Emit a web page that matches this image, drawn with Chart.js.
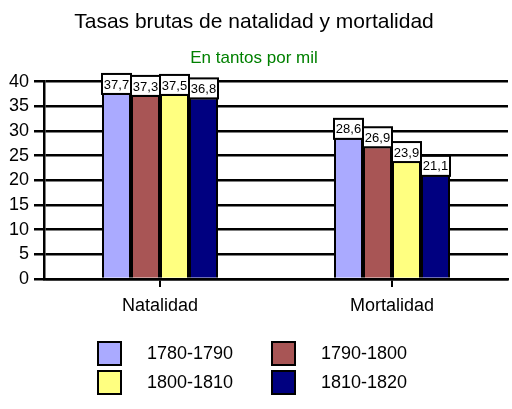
<!DOCTYPE html>
<html>
<head>
<meta charset="utf-8">
<script src="https://cdn.jsdelivr.net/npm/chart.js@4"></script>
<style>
  body { margin: 0; background: #fff; font-family: Arial, "Liberation Sans", sans-serif; }
  #wrap { position: relative; width: 512px; height: 409px; }
  #legend { position: absolute; left: 97px; top: 341px; display: grid;
            grid-template-columns: 174px 174px; row-gap: 4px; }
  .item { display: flex; align-items: center; height: 25px; font-size: 18px; color: #000; }
  .box { width: 21px; height: 21px; border: 2px solid #000; margin-right: 25px; }
</style>
</head>
<body>
<div id="wrap">
  <canvas id="chart" width="512" height="409"></canvas>
  <div id="legend"></div>
</div>
<script>
// categories and series
const categories = ["Natalidad", "Mortalidad"];
const periods = ["1780-1790", "1790-1800", "1800-1810", "1810-1820"];
const colors = ["#AAAAFF", "#A85555", "#FFFF80", "#000080"];
const v1780 = [37.7, 28.6];
const v1790 = [37.3, 26.9];
const v1800 = [37.5, 23.9];
const v1810 = [36.8, 21.1];
const yTicks = [0, 5, 10, 15, 20, 25, 30, 35, 40];

const seriesValues = [v1780, v1790, v1800, v1810];

// white boxed value labels above each bar
const valueBoxes = {
    id: 'valueBoxes',
    afterDatasetsDraw(chart) {
        const ctx = chart.ctx;
        ctx.save();
        ctx.font = '13px Arial, "Liberation Sans", sans-serif';
        ctx.textAlign = 'center';
        ctx.textBaseline = 'middle';
        chart.data.datasets.forEach((ds, i) => {
            chart.getDatasetMeta(i).data.forEach((bar, j) => {
                const w = bar.width;
                const h = 20;
                const x = bar.x - w / 2;
                const y = bar.y - h + 1;
                ctx.fillStyle = '#fff';
                ctx.fillRect(x, y, w, h);
                ctx.strokeStyle = '#000';
                ctx.lineWidth = 2;
                ctx.strokeRect(x, y, w, h);
                ctx.fillStyle = '#000';
                ctx.fillText(ds.data[j].toFixed(1).replace('.', ','), bar.x, y + h / 2 + 1);
            });
        });
        ctx.restore();
    }
};

new Chart(document.getElementById('chart'), {
    type: 'bar',
    data: {
        labels: categories,
        datasets: periods.map((p, i) => ({
            label: p,
            data: seriesValues[i],
            backgroundColor: colors[i],
            borderColor: '#000',
            borderWidth: 2,
            categoryPercentage: 0.5,
            barPercentage: 1.0
        }))
    },
    options: {
        responsive: false,
        animation: false,
        layout: { padding: { right: 4 } },
        plugins: {
            legend: { display: false },
            tooltip: { enabled: false },
            title: {
                display: true,
                text: 'Tasas brutas de natalidad y mortalidad',
                color: '#000',
                font: { family: 'Arial, "Liberation Sans", sans-serif', size: 21, weight: 'normal' },
                padding: { top: 10, bottom: 13 }
            },
            subtitle: {
                display: true,
                text: 'En tantos por mil',
                color: '#008000',
                font: { family: 'Arial, "Liberation Sans", sans-serif', size: 17, weight: 'normal' },
                padding: { top: 0, bottom: 13 }
            }
        },
        scales: {
            x: {
                grid: { display: true, drawOnChartArea: false, offset: false, color: '#000', lineWidth: 2, tickLength: 8 },
                border: { color: '#000', width: 2.5 },
                ticks: { color: '#000', padding: 8, font: { family: 'Arial, "Liberation Sans", sans-serif', size: 18 } },
                afterFit(scale) { scale.height = 130; }
            },
            y: {
                min: 0,
                max: 40,
                afterBuildTicks(scale) { scale.ticks = yTicks.map(v => ({ value: v })); },
                grid: { color: '#000', lineWidth: 2.5, tickLength: 10 },
                border: { color: '#000', width: 2.5 },
                ticks: { color: '#000', padding: 5, font: { family: 'Arial, "Liberation Sans", sans-serif', size: 18 } },
                afterFit(scale) { scale.width = 44; }
            }
        }
    },
    plugins: [valueBoxes]
});

// legend in two columns
const legend = document.getElementById('legend');
periods.forEach((p, i) => {
    const item = document.createElement('div');
    item.className = 'item';
    item.innerHTML = `<span class="box" style="background:${colors[i]}"></span>${p}`;
    legend.appendChild(item);
});
</script>
</body>
</html>
